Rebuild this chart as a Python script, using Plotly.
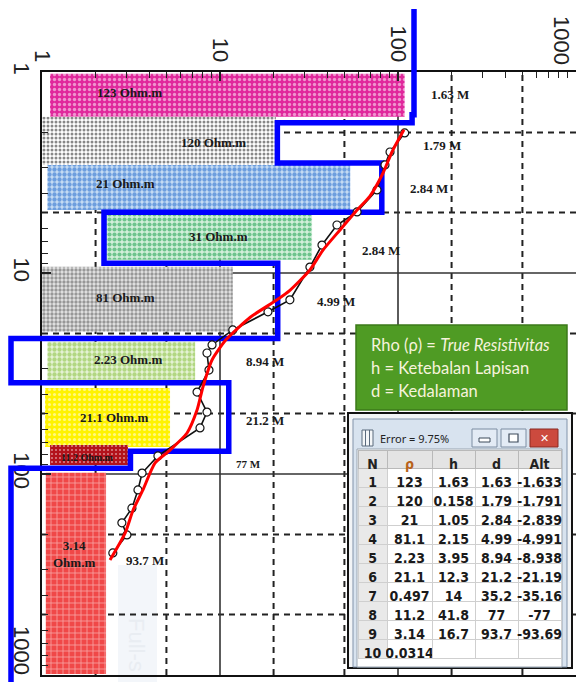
import numpy as np
import plotly.graph_objects as go

# ---------------- data ----------------
# inverted layer model (table window)
layer_n   = [1, 2, 3, 4, 5, 6, 7, 8, 9, 10]
layer_rho = [123, 120, 21, 81.1, 2.23, 21.1, 0.497, 11.2, 3.14, 0.0314]
layer_h   = [1.63, 0.158, 1.05, 2.15, 3.95, 12.3, 14, 41.8, 16.7]
layer_d   = [1.63, 1.79, 2.84, 4.99, 8.94, 21.2, 35.2, 77, 93.7]
layer_alt = [-1.633, -1.791, -2.839, -4.991, -8.938, -21.19, -35.16, -77, -93.69]
fit_error = 9.75

# field data (black, circles)
obs_ab2 = [2.01, 2.50, 2.90, 3.86, 4.97, 5.77, 7.26, 9.34, 13.6, 15.6, 19.2, 22.8,
           25.0, 30.4, 39.1, 49.2, 59.0, 81.3, 98.9, 120, 148, 175, 201, 247]
obs_rho = [109, 90.2, 84.5, 76.2, 58.9, 45.4, 37.4, 32.0, 24.7, 18.6, 11.8, 9.02,
           8.45, 8.67, 7.43, 8.45, 7.72, 4.48, 3.65, 3.46, 3.20, 2.81, 3.00, 2.50]

# calculated curve (red)
calc_ab2 = [1.94, 2.50, 3.18, 4.14, 4.86, 6.11, 7.69, 9.66, 12.2, 13.6, 16.6, 21.5,
            27.1, 36.9, 48.1, 62.5, 76.0, 88.2, 120, 151, 197, 268]
calc_rho = [108, 92.5, 82.4, 69.6, 58.9, 47.2, 37.9, 32.0, 24.7, 20.9, 14.8, 10.8,
            9.02, 8.02, 7.43, 6.53, 5.24, 4.31, 3.69, 3.25, 2.93, 2.41]

# interpretation blocks
block_labels = ["123 Ohm.m", "120 Ohm.m", "21 Ohm.m", "31 Ohm.m", "81 Ohm.m",
                "2.23 Ohm.m", "21.1 Ohm.m", "11.2 Ohm.m", "3.14<br>Ohm.m"]
block_rho_lo = [1.11, 1.0, 1.07, 2.2, 1.0, 1.07, 1.04, 1.11, 1.05]
block_rho_hi = [109, 20.6, 53.9, 32.9, 11.8, 7.25, 5.24, 3.04, 2.29]
block_top    = [1.02, 1.67, 2.9, 5.03, 9.3, 22.0, 37.3, 71.8, 98.6]
block_bot    = [1.67, 2.9, 4.86, 8.6, 19.6, 34.0, 73.3, 90.3, 990]
block_lab_rho   = [3.12, 9.25, 2.96, 9.87, 2.93, 3.04, 2.54, 1.81, 1.51]
block_lab_depth = [1.27, 2.23, 3.57, 6.62, 13.2, 26.8, 52.6, 82.3, 250]

depth_labels = ["1.63 M", "1.79 M", "2.84 M", "2.84 M", "4.99 M", "8.94 M",
                "21.2 M", "77 M", "93.7 M"]
depth_lab_rho   = [196, 177, 149, 80.2, 44.9, 17.9, 17.9, 14.4, 3.79]
depth_lab_depth = [1.30, 2.31, 3.82, 7.69, 13.8, 27.7, 53.9, 89.2, 268]

axis_ticks = [1, 10, 100, 1000]
axis_ticktext = ["1", "10", "100", "1000"]
solid_grid = [10, 100]
dash_grid = [2, 5, 20, 50, 200, 500]

legend_lines = ["Rho (\u03c1) = <i>True Resistivitas</i>",
                "h = Ketebalan Lapisan", "d = Kedalaman"]

# ---------------- styles ----------------
block_styles = [
    dict(shape=".", bg="#e0289c", fg="#ffffff", size=5, sol=0.35),
    dict(shape=".", bg="#ffffff", fg="#111111", size=4, sol=0.45),
    dict(shape=".", bg="#c6dcf4", fg="#1460c8", size=5, sol=0.6),
    dict(shape=".", bg="#d2efda", fg="#0a9a40", size=5, sol=0.55),
    dict(shape=".", bg="#e4e4e4", fg="#4a4a4a", size=4, sol=0.55),
    dict(shape=".", bg="#e6f3d6", fg="#7dbb2e", size=5, sol=0.6),
    dict(shape=".", bg="#fff200", fg="#ffffff", size=5, sol=0.3),
    dict(shape=".", bg="#b3121b", fg="#ffffff", size=4, sol=0.2),
    dict(shape="+", bg="#f04848", fg="#ffffff", size=6, sol=0.25),
]
block_font_sizes = [13, 13, 13, 13, 13, 13, 13, 10, 13]
depth_font_sizes = [13, 13, 13, 13, 13, 13, 13, 11, 13]

W, H = 576, 682
PL, PT, PB = 42, 72, 675           # plot frame in pixels
DX = (W - PL) / 3.0                # px per decade (x)
DY = (PB - PT) / 3.0               # px per decade (y)

def pxx(px):
    return px / W

def pxy(py):
    return 1 - py / H

fig = go.Figure()

# interpretation blocks (pattern filled)
for lo, hi, t, b, st in zip(block_rho_lo, block_rho_hi, block_top, block_bot, block_styles):
    fig.add_trace(go.Scatter(
        x=[lo, hi, hi, lo, lo], y=[t, t, b, b, t], mode="lines",
        line=dict(width=0, color="rgba(0,0,0,0)"), fill="toself",
        fillcolor=st["bg"],
        fillpattern=dict(shape=st["shape"], bgcolor=st["bg"], fgcolor=st["fg"],
                         size=st["size"], solidity=st["sol"]),
        hoverinfo="skip", xaxis="x", yaxis="y"))

# overlay axes spanning the whole figure (same scale) for the curves
x2_min = -PL / DX
y2_top = -PT / DY
y2_bot = 3 + (H - PB) / DY
model_clip = 10 ** (x2_min + 11 / DX)
model_top = 10 ** (y2_top + 9 / DY)
model_bottom = 10 ** (y2_bot + 0.2)

rho_disp = np.maximum(np.array(layer_rho, dtype=float), model_clip)
tops = [model_top] + layer_d
bots = layer_d + [model_bottom]
mx, my = [], []
for r, t, b in zip(rho_disp, tops, bots):
    mx += [r, r]
    my += [t, b]

fig.add_trace(go.Scatter(x=mx, y=my, mode="lines",
                         line=dict(color="#0000ff", width=5.5),
                         xaxis="x2", yaxis="y2", hoverinfo="skip"))
fig.add_trace(go.Scatter(x=obs_rho, y=obs_ab2, mode="lines+markers",
                         line=dict(color="#111111", width=1.6),
                         marker=dict(symbol="circle", size=8, color="#ffffff",
                                     line=dict(color="#111111", width=1.2)),
                         xaxis="x2", yaxis="y2", hoverinfo="skip"))
fig.add_trace(go.Scatter(x=calc_rho, y=calc_ab2, mode="lines",
                         line=dict(color="#ff0000", width=3, shape="spline", smoothing=0.6),
                         xaxis="x2", yaxis="y2", hoverinfo="skip"))

# table window
rows_n = [str(v) for v in layer_n]
rows_rho = [f"{v:g}" for v in layer_rho]
rows_h = [f"{v:g}" for v in layer_h] + [""]
rows_d = [f"{v:g}" for v in layer_d] + [""]
rows_alt = [f"{v:g}" for v in layer_alt] + [""]
tfont = "Liberation Sans Narrow, DejaVu Sans Condensed, Arial Narrow, Liberation Sans, sans-serif"
fig.add_trace(go.Table(
    domain=dict(x=[pxx(358), pxx(561)], y=[pxy(668), pxy(450)]),
    columnwidth=[29, 45, 43, 43, 43],
    header=dict(values=["N", "\u03c1", "h", "d", "Alt"], height=18,
                fill_color="#e4e4e4", line_color="#b9b9b9",
                font=dict(family=tfont, size=14, weight="bold",
                          color=["#222", "#b8621b", "#222", "#222", "#222"]),
                align="center"),
    cells=dict(values=[rows_n, rows_rho, rows_h, rows_d, rows_alt], height=19,
               fill_color=[["#e9e9e9"] * 10, ["#ffffff"] * 10, ["#ffffff"] * 10,
                           ["#ffffff"] * 10, ["#ffffff"] * 10],
               line_color="#cfcfcf",
               font=dict(family=tfont, size=14, weight="bold", color="#1a1a1a"),
               align="center")))

def prect(x0, x1, y0, y1, fill, lc=None, lw=0):
    return dict(type="rect", xref="paper", yref="paper", x0=pxx(x0), x1=pxx(x1),
                y0=pxy(y1), y1=pxy(y0), fillcolor=fill,
                line=dict(color=lc or fill, width=lw), layer="below")

shapes = []
# faint watermark block
shapes.append(prect(118, 157, 565, 682, "#f3f6fa"))
# grid lines (drawn as shapes so the boxes can cover them)
for v in dash_grid:
    shapes.append(dict(type="line", xref="x", yref="y domain", x0=v, x1=v, y0=0, y1=1,
                       line=dict(color="#222", width=2, dash="6px,5px"), layer="below"))
    shapes.append(dict(type="line", xref="x domain", yref="y", x0=0, x1=1, y0=v, y1=v,
                       line=dict(color="#222", width=2, dash="6px,5px"), layer="below"))
for v in solid_grid:
    shapes.append(dict(type="line", xref="x", yref="y domain", x0=v, x1=v, y0=0, y1=1,
                       line=dict(color="#333", width=1.6), layer="below"))
    shapes.append(dict(type="line", xref="x domain", yref="y", x0=0, x1=1, y0=v, y1=v,
                       line=dict(color="#333", width=1.6), layer="below"))

# green legend box
shapes.append(prect(356, 567, 325, 410, "#4f9b24", "#3c7a1a", 1.5))
# table window decoration
shapes.append(prect(348, 572, 413, 668, "#f2f4f6", "#111111", 2))
shapes.append(prect(353, 567, 419, 667, "#d8e3ef", "#8193aa", 1))
shapes.append(prect(357, 562, 449, 667, "#ffffff", "#9aa5b1", 1))
shapes.append(prect(362, 373, 430, 446, "#f4f6f8", "#5b6b7d", 1))
for ix in (365.5, 369.5):
    shapes.append(dict(type="line", xref="paper", yref="paper", x0=pxx(ix), x1=pxx(ix),
                       y0=pxy(446), y1=pxy(430), line=dict(color="#5b6b7d", width=1),
                       layer="below"))
shapes.append(prect(472, 497, 429, 447, "#e3ebf5", "#7d8da2", 1))
shapes.append(prect(479, 490, 438, 442, "#ffffff", "#3d4a5a", 1))
shapes.append(prect(501, 526, 429, 447, "#e3ebf5", "#7d8da2", 1))
shapes.append(prect(509, 518, 434, 442, "#ffffff", "#3d4a5a", 1.2))
shapes.append(prect(530, 558, 429, 447, "#cc4a3e", "#8a2a22", 1))

axis_font = dict(family="Liberation Sans, Arial, sans-serif", size=22, color="#222")

annotations = []
for txt, xr, yd, fs in zip(block_labels, block_lab_rho, block_lab_depth, block_font_sizes):
    annotations.append(dict(x=np.log10(xr), y=np.log10(yd), xref="x", yref="y", text=txt,
                            showarrow=False, align="center",
                            font=dict(family="Liberation Serif", size=fs, color="#1a1a1a",
                                      weight="bold")))
for txt, xr, yd, fs in zip(depth_labels, depth_lab_rho, depth_lab_depth, depth_font_sizes):
    annotations.append(dict(x=np.log10(xr), y=np.log10(yd), xref="x", yref="y", text=txt,
                            showarrow=False,
                            font=dict(family="Liberation Serif", size=fs, color="#1a1a1a",
                                      weight="bold")))
for i, line in enumerate(legend_lines):
    annotations.append(dict(x=pxx(369), y=pxy(345 + 23 * i), xref="paper", yref="paper",
                            xanchor="left", yanchor="middle", text=line, showarrow=False,
                            font=dict(family="Lato, Open Sans, sans-serif", size=16.5,
                                      color="#f6f3dc")))
annotations.append(dict(x=pxx(378), y=pxy(438), xref="paper", yref="paper",
                        xanchor="left", yanchor="middle", text=f"Error = {fit_error}%",
                        showarrow=False,
                        font=dict(family="Noto Sans, sans-serif", size=11, color="#222")))
annotations.append(dict(x=pxx(544), y=pxy(438), xref="paper", yref="paper",
                        xanchor="center", yanchor="middle",
                        text="\u2715", showarrow=False,
                        font=dict(family="DejaVu Sans", size=11, color="#ffffff")))
annotations.append(dict(x=pxx(137), y=pxy(645), xref="paper", yref="paper",
                        xanchor="center", yanchor="middle",
                        text="Full-s", textangle=90, showarrow=False,
                        font=dict(family="Liberation Sans", size=22, color="#e9edf2")))
# corner tick labels pulled inside the page (as in the reference)
annotations.append(dict(x=pxx(561), y=pxy(40), xref="paper", yref="paper",
                        xanchor="center", yanchor="middle",
                        text=axis_ticktext[-1], textangle=90, showarrow=False,
                        font=axis_font))
annotations.append(dict(x=pxx(22), y=pxy(650), xref="paper", yref="paper",
                        xanchor="center", yanchor="middle",
                        text=axis_ticktext[-1], textangle=90, showarrow=False,
                        font=axis_font))

fig.update_layout(
    width=W, height=H, margin=dict(l=0, r=0, t=0, b=0),
    paper_bgcolor="#ffffff", plot_bgcolor="rgba(0,0,0,0)", showlegend=False,
    xaxis=dict(type="log", range=[0, 3], domain=[pxx(PL), 1], side="top", anchor="y",
               tickmode="array", tickvals=axis_ticks,
               ticktext=axis_ticktext[:-1] + [""],
               tickangle=90, tickfont=axis_font, ticks="inside", ticklen=9,
               tickcolor="#222", tickwidth=1.5, showgrid=False,
               showline=True, linecolor="#111", linewidth=2, mirror=True,
               minor=dict(ticks="inside", ticklen=6, tickcolor="#222", tickwidth=1.3,
                          dtick="D1", showgrid=False),
               zeroline=False, automargin=False),
    yaxis=dict(type="log", range=[3, 0], domain=[pxy(PB), pxy(PT)], anchor="x",
               tickmode="array", tickvals=axis_ticks,
               ticktext=axis_ticktext[:-1] + [""],
               tickangle=90, tickfont=axis_font, ticks="inside", ticklen=9,
               tickcolor="#222", tickwidth=1.5, showgrid=False,
               showline=True, linecolor="#111", linewidth=2, mirror=False,
               minor=dict(ticks="inside", ticklen=6, tickcolor="#222", tickwidth=1.3,
                          dtick="D1", showgrid=False),
               zeroline=False, automargin=False),
    xaxis2=dict(type="log", range=[x2_min, 3], domain=[0, 1], anchor="y2",
                visible=False, showgrid=False),
    yaxis2=dict(type="log", range=[y2_bot, y2_top], domain=[0, 1], anchor="x2",
                visible=False, showgrid=False),
    shapes=shapes, annotations=annotations,
)

fig.write_html("out.html", config={"displayModeBar": False},
               post_script="document.body.style.margin='0px';")
